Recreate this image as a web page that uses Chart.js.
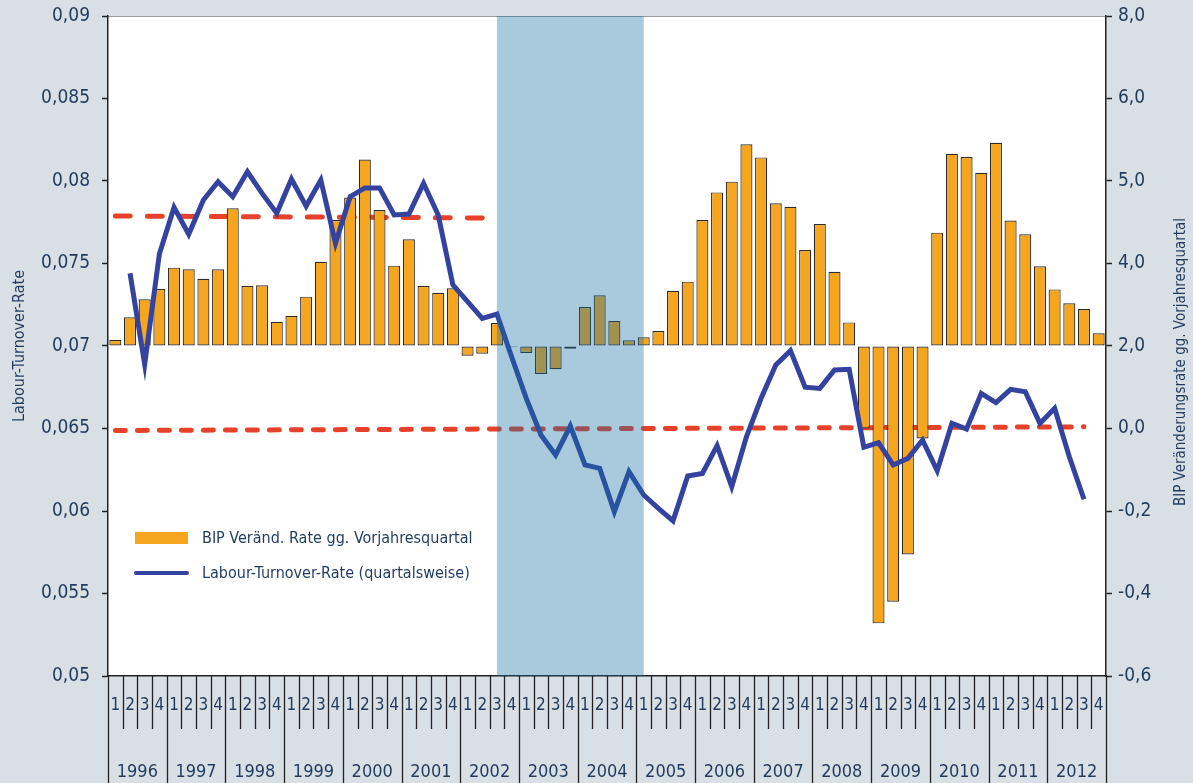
<!DOCTYPE html>
<html>
<head>
<meta charset="utf-8">
<script src="https://cdn.jsdelivr.net/npm/chart.js@4.4.1/dist/chart.umd.min.js"></script>
<style>
  html, body { margin: 0; padding: 0; background: #d8dfe5; }
  #wrap { width: 1193px; height: 783px; }
</style>
</head>
<body>
<div id="wrap"><canvas id="myChart" width="1193" height="783"></canvas></div>
<script>
// data
const years = ['1996','1997','1998','1999','2000','2001','2002','2003','2004','2005','2006','2007','2008','2009','2010','2011','2012'];
const quarters = ['1','2','3','4'];

// BIP bars, drawn on the left scale from the 0,07 base line
const bipValues = [
  0.07036, 0.07174, 0.07283, 0.07345,
  0.07475, 0.07465, 0.07408, 0.07465,
  0.07835, 0.07364, 0.07368, 0.07147,
  0.07182, 0.07299, 0.07511, 0.07764,
  0.07900, 0.08130, 0.07824, 0.07487,
  0.07647, 0.07364, 0.07323, 0.07350,
  0.06941, 0.06953, 0.07139, 0.06993,
  0.06958, 0.06830, 0.06859, 0.06984,
  0.07236, 0.07307, 0.07152, 0.07035,
  0.07053, 0.07091, 0.07335, 0.07390,
  0.07764, 0.07931, 0.07996, 0.08222,
  0.08143, 0.07865, 0.07844, 0.07582,
  0.07739, 0.07450, 0.07143, 0.06500,
  0.05319, 0.05450, 0.05737, 0.06440,
  0.07687, 0.08165, 0.08145, 0.08050,
  0.08232, 0.07760, 0.07677, 0.07483,
  0.07343, 0.07259, 0.07224, 0.07077
];
const bipBase = 0.07;

const turnoverValues = [
  null,    0.07441, 0.06889, 0.07558,
  0.07840, 0.07677, 0.07885, 0.07996,
  0.07905, 0.08056, 0.07925, 0.07804,
  0.08012, 0.07848, 0.08006, 0.07622,
  0.07905, 0.07958, 0.07958, 0.07794,
  0.07800, 0.07986, 0.07794, 0.07370,
  0.07269, 0.07168, 0.07194, 0.06935,
  0.06683, 0.06461, 0.06340, 0.06515,
  0.06279, 0.06259, 0.05996, 0.06238,
  0.06097, 0.06016, 0.05940, 0.06212,
  0.06228, 0.06396, 0.06147, 0.06450,
  0.06683, 0.06885, 0.06972, 0.06750,
  0.06743, 0.06855, 0.06859, 0.06386,
  0.06414, 0.06279, 0.06319, 0.06430,
  0.06244, 0.06531, 0.06497, 0.06713,
  0.06657, 0.06737, 0.06723, 0.06531,
  0.06622, 0.06329, 0.06071, null
];

// trend lines (start / end points)
const trendHighFrom = ['1996 Q1', 0.07788];
const trendHighTo   = ['2002 Q2', 0.07776];
const trendLowFrom  = ['1996 Q1', 0.06488];
const trendLowTo    = ['2012 Q3', 0.06510];

const shadeFrom = '2002 Q3';
const shadeTo   = '2005 Q1';

const leftTicks  = [0.05, 0.055, 0.06, 0.065, 0.07, 0.075, 0.08, 0.085, 0.09];
const rightTicks = ['-0,6', '-0,4', '-0,2', '0,0', '2,0', '4,0', '5,0', '6,0', '8,0'];

const labels = years.flatMap(y => quarters.map(q => y + ' Q' + q));

const lineOf = (from, to) => labels.map(l => l === from[0] ? from[1] : (l === to[0] ? to[1] : null));

const FONT = "'Liberation Sans Narrow', 'DejaVu Sans Condensed', 'Liberation Sans', sans-serif";
const TEXT = '#1f3b5e';
const AXIS = '#222';

Chart.defaults.font.family = FONT;
Chart.defaults.color = TEXT;

const background = {
  id: 'background',
  beforeDraw(chart) {
    const { ctx, chartArea: a } = chart;
    ctx.save();
    ctx.fillStyle = '#d8dfe5';
    ctx.fillRect(0, 0, chart.width, chart.height);
    ctx.fillStyle = '#ffffff';
    ctx.fillRect(a.left, a.top, a.right - a.left, a.bottom - a.top);
    ctx.strokeStyle = '#9a9a9a';
    ctx.lineWidth = 1;
    ctx.beginPath();
    ctx.moveTo(a.left, a.top + 0.5);
    ctx.lineTo(a.right, a.top + 0.5);
    ctx.stroke();
    ctx.restore();
  }
};

const shade = {
  id: 'shade',
  afterDatasetsDraw(chart) {
    const { ctx, chartArea: a, scales: { x } } = chart;
    const x0 = x.getPixelForValue(labels.indexOf(shadeFrom));
    const x1 = x.getPixelForValue(labels.indexOf(shadeTo));
    ctx.save();
    ctx.fillStyle = 'rgba(23, 112, 163, 0.37)';
    ctx.fillRect(x0, a.top, x1 - x0, a.bottom - a.top);
    ctx.restore();
  }
};

// two level category axis: quarters and years
const quarterAxis = {
  id: 'quarterAxis',
  afterDraw(chart) {
    const { ctx, chartArea: a, scales: { x } } = chart;
    const step = x.getPixelForValue(1) - x.getPixelForValue(0);
    ctx.save();
    ctx.strokeStyle = AXIS;
    ctx.lineWidth = 1.3;
    ctx.fillStyle = TEXT;
    ctx.textAlign = 'center';
    ctx.textBaseline = 'middle';
    labels.forEach((l, i) => {
      const c = x.getPixelForValue(i);
      const left = Math.round(c - step / 2) + 0.5;
      ctx.beginPath();
      ctx.moveTo(left, a.bottom);
      ctx.lineTo(left, i % 4 === 0 ? chart.height : a.bottom + 53);
      ctx.stroke();
      ctx.font = '17px ' + FONT;
      ctx.fillText(quarters[i % 4], c, a.bottom + 30);
    });
    const end = Math.round(x.getPixelForValue(labels.length - 1) + step / 2) + 0.5;
    ctx.beginPath();
    ctx.moveTo(end, a.bottom);
    ctx.lineTo(end, chart.height);
    ctx.stroke();
    ctx.font = '18px ' + FONT;
    years.forEach((y, k) => {
      const c = (x.getPixelForValue(k * 4) + x.getPixelForValue(k * 4 + 3)) / 2;
      ctx.fillText(y, c, a.bottom + 96);
    });
    ctx.restore();
  }
};

const rightTitle = {
  id: 'rightTitle',
  afterDraw(chart) {
    const { ctx, chartArea: a } = chart;
    ctx.save();
    ctx.translate(a.right + 75, 362);
    ctx.rotate(-Math.PI / 2);
    ctx.fillStyle = TEXT;
    ctx.font = '15px ' + FONT;
    ctx.textAlign = 'center';
    ctx.textBaseline = 'middle';
    ctx.fillText('BIP Veränderungsrate gg. Vorjahresquartal', 0, 0);
    ctx.restore();
  }
};

const legendBox = {
  id: 'legendBox',
  afterDraw(chart) {
    const { ctx, chartArea: a } = chart;
    const bars = chart.data.datasets[1];
    const line = chart.data.datasets[0];
    const lx = a.left + 27;
    ctx.save();
    ctx.fillStyle = bars.backgroundColor;
    ctx.fillRect(lx, 532, 53, 12);
    ctx.strokeStyle = line.borderColor;
    ctx.lineWidth = 4;
    ctx.lineCap = 'round';
    ctx.beginPath();
    ctx.moveTo(lx + 1, 573);
    ctx.lineTo(lx + 52, 573);
    ctx.stroke();
    ctx.fillStyle = TEXT;
    ctx.font = '16px ' + FONT;
    ctx.textBaseline = 'middle';
    ctx.fillText(bars.label, lx + 67, 539);
    ctx.fillText(line.label, lx + 67, 574);
    ctx.restore();
  }
};

const fmt = v => String(Number(v.toFixed(3))).replace('.', ',');

const fixWidth = w => s => {
  s.width = w;
  s.paddingTop = 0;
  s.paddingBottom = 0;
};

new Chart(document.getElementById('myChart'), {
  data: {
    labels: labels,
    datasets: [
      {
        type: 'line',
        label: 'Labour-Turnover-Rate (quartalsweise)',
        data: turnoverValues,
        borderColor: '#3443a0',
        borderWidth: 5,
        pointRadius: 0,
        tension: 0,
        spanGaps: false,
        order: 0
      },
      {
        type: 'bar',
        label: 'BIP Veränd. Rate gg. Vorjahresquartal',
        data: bipValues,
        base: bipBase,
        backgroundColor: '#f5a61e',
        borderColor: '#2b2b2b',
        borderWidth: 1.2,
        borderSkipped: false,
        barPercentage: 0.82,
        categoryPercentage: 1,
        order: 1
      },
      {
        type: 'line',
        label: 'Trend 1996-2002',
        data: lineOf(trendHighFrom, trendHighTo),
        borderColor: '#e8412a',
        borderWidth: 5,
        borderDash: [15, 17],
        borderCapStyle: 'round',
        pointRadius: 0,
        spanGaps: true,
        order: 2
      },
      {
        type: 'line',
        label: 'Trend 1996-2012',
        data: lineOf(trendLowFrom, trendLowTo),
        borderColor: '#e8412a',
        borderWidth: 5,
        borderDash: [10, 12],
        borderCapStyle: 'round',
        pointRadius: 0,
        spanGaps: true,
        order: 2
      }
    ]
  },
  options: {
    responsive: false,
    animation: false,
    layout: { padding: { top: 16 } },
    plugins: {
      legend: { display: false },
      tooltip: { enabled: false }
    },
    scales: {
      x: {
        type: 'category',
        offset: true,
        grid: { display: false },
        ticks: { display: false },
        border: { color: AXIS, width: 1.5 },
        afterFit: s => { s.height = 107; s.paddingLeft = 0; s.paddingRight = 0; }
      },
      y: {
        position: 'left',
        min: 0.05,
        max: 0.09,
        afterBuildTicks: s => { s.ticks = leftTicks.map(v => ({ value: v })); },
        ticks: { callback: v => fmt(v), color: TEXT, font: { size: 19 }, padding: 12 },
        grid: { drawOnChartArea: false, tickLength: 6, color: AXIS, tickWidth: 1.5 },
        border: { color: AXIS, width: 1.5 },
        title: { display: true, text: 'Labour-Turnover-Rate', color: TEXT, font: { size: 16 }, padding: { top: 10, bottom: 0 } },
        afterFit: fixWidth(108)
      },
      y2: {
        position: 'right',
        min: 0.05,
        max: 0.09,
        afterBuildTicks: s => { s.ticks = leftTicks.map(v => ({ value: v })); },
        ticks: {
          callback: (v, i) => rightTicks[i],
          color: TEXT, font: { size: 19 }, padding: 6
        },
        grid: { drawOnChartArea: false, tickLength: 6, color: AXIS, tickWidth: 1.5 },
        border: { color: AXIS, width: 1.5 },
        afterFit: fixWidth(87)
      }
    }
  },
  plugins: [background, shade, quarterAxis, rightTitle, legendBox]
});
</script>
</body>
</html>
